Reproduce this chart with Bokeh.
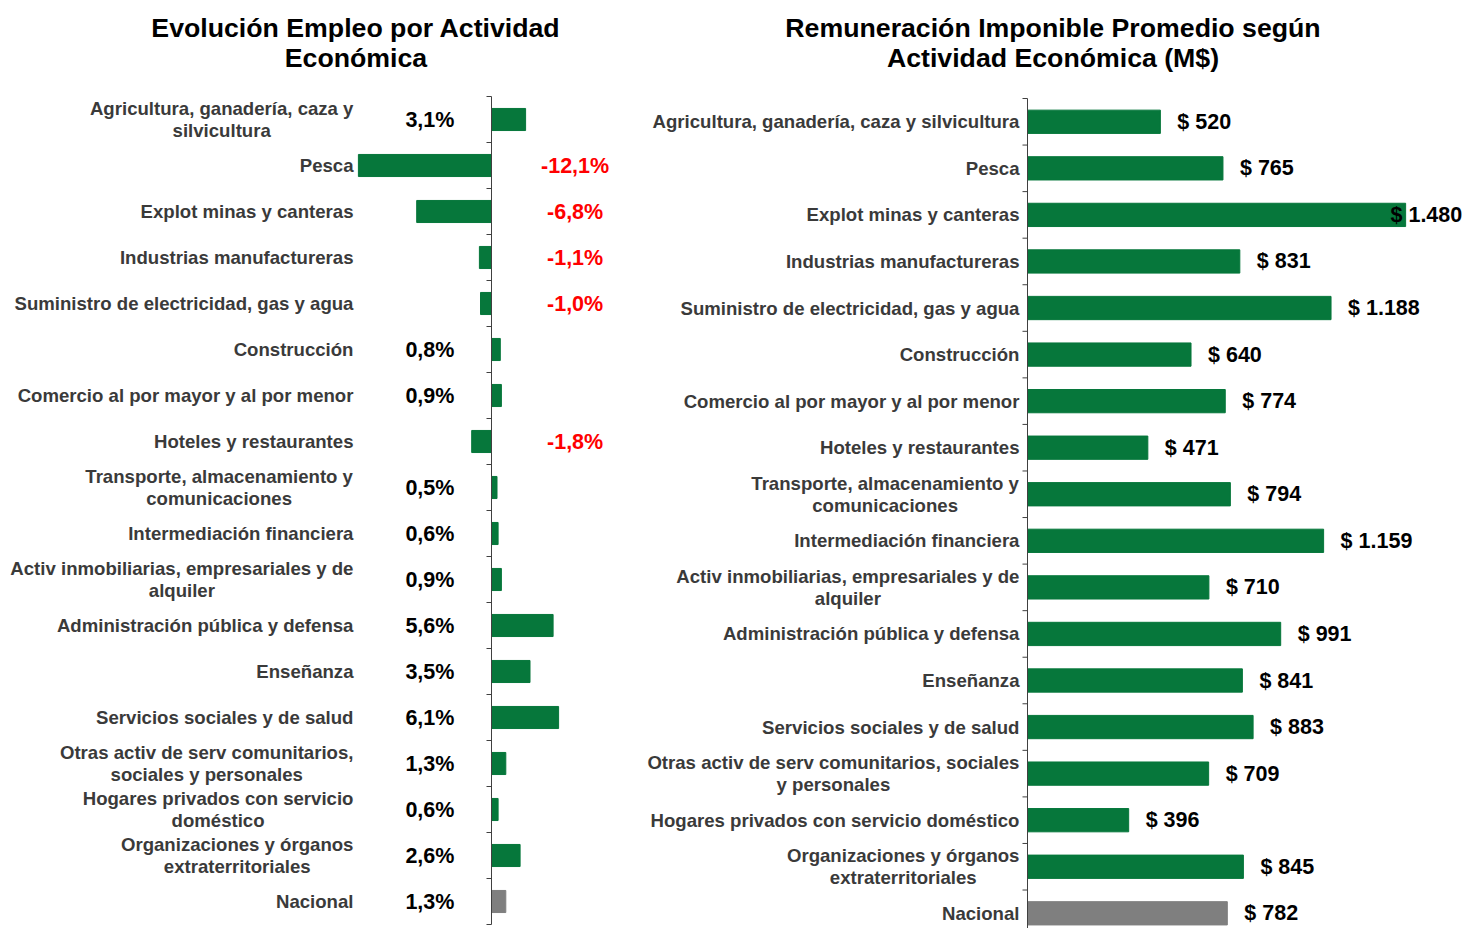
import numpy as np
from bokeh.plotting import figure
from bokeh.layouts import column, row
from bokeh.models import ColumnDataSource, Range1d
from bokeh.core.properties import value
from bokeh.embed import file_html
from bokeh.resources import INLINE

# ---------------- data ----------------
categorias_empleo = [
    "Agricultura, ganadería, caza y\nsilvicultura",
    "Pesca",
    "Explot minas y canteras",
    "Industrias manufactureras",
    "Suministro de electricidad, gas y agua",
    "Construcción",
    "Comercio al por mayor y al por menor",
    "Hoteles y restaurantes",
    "Transporte, almacenamiento y\ncomunicaciones",
    "Intermediación financiera",
    "Activ inmobiliarias, empresariales y de\nalquiler",
    "Administración pública y defensa",
    "Enseñanza",
    "Servicios sociales y de salud",
    "Otras activ de serv comunitarios,\nsociales y personales",
    "Hogares privados con servicio\ndoméstico",
    "Organizaciones y órganos\nextraterritoriales",
    "Nacional",
]
categorias_remun = [
    "Agricultura, ganadería, caza y silvicultura",
    "Pesca",
    "Explot minas y canteras",
    "Industrias manufactureras",
    "Suministro de electricidad, gas y agua",
    "Construcción",
    "Comercio al por mayor y al por menor",
    "Hoteles y restaurantes",
    "Transporte, almacenamiento y\ncomunicaciones",
    "Intermediación financiera",
    "Activ inmobiliarias, empresariales y de\nalquiler",
    "Administración pública y defensa",
    "Enseñanza",
    "Servicios sociales y de salud",
    "Otras activ de serv comunitarios, sociales\ny personales",
    "Hogares privados con servicio doméstico",
    "Organizaciones y órganos\nextraterritoriales",
    "Nacional",
]
empleo_var = [3.1, -12.1, -6.8, -1.1, -1.0, 0.8, 0.9, -1.8, 0.5, 0.6,
              0.9, 5.6, 3.5, 6.1, 1.3, 0.6, 2.6, 1.3]
remuneracion = [520, 765, 1480, 831, 1188, 640, 774, 471, 794, 1159,
                710, 991, 841, 883, 709, 396, 845, 782]
titulo_empleo = "Evolución Empleo por Actividad\nEconómica"
titulo_remun = "Remuneración Imponible Promedio según\nActividad Económica (M$)"

# ---------------- style ----------------
FONT = "Liberation Sans"
GREEN = "#06773B"
GREY = "#7F7F7F"
AXIS = "#404040"
LABEL_COL = "#3a3a3a"
LABEL_PX = 18.6
VALUE_SIZE = "21.5px"
LINE_H = 1.03
TITLE_H = 92
H = 928 - TITLE_H

n = len(empleo_var)
idx = np.arange(n)
bar_colors = [GREY if c == "Nacional" else GREEN for c in categorias_empleo]

# Liberation Sans Bold advance widths (1/1000 em) to centre wrapped lines
_W = dict(zip("abcdefghijklmnopqrstuvwxyz",
              [556, 611, 556, 611, 556, 333, 611, 611, 278, 278, 556, 278, 889,
               611, 611, 611, 611, 389, 556, 333, 611, 556, 778, 556, 556, 500]))
_W.update(dict(zip("ABCDEFGHIJKLMNOPQRSTUVWXYZ",
                   [722, 722, 722, 722, 667, 611, 778, 722, 278, 556, 722, 611, 833,
                    722, 778, 667, 778, 722, 667, 611, 722, 667, 944, 667, 667, 611])))
_W.update({" ": 278, ",": 278, ".": 278, "á": 556, "é": 556, "í": 278,
           "ó": 611, "ú": 611, "ñ": 611})


def block_width(label, px):
    return max(sum(_W.get(ch, 556) for ch in line) for line in label.split("\n")) * px / 1000


def base_fig(width, x_range, y_range):
    p = figure(width=width, height=H, x_range=x_range, y_range=y_range,
               x_axis_location=None, y_axis_location=None, toolbar_location=None,
               output_backend="svg", min_border=0)
    p.outline_line_color = None
    p.grid.visible = False
    return p


def axis_and_labels(p, px_per_unit, labels, label_gap_px):
    # vertical axis at zero, small ticks at category boundaries (outside)
    p.segment(x0=[0], y0=[-0.5], x1=[0], y1=[n - 0.5], line_color=AXIS, line_width=1)
    bounds = np.arange(n + 1) - 0.5
    p.segment(x0=np.full(n + 1, -5 / px_per_unit), y0=bounds, x1=np.zeros(n + 1),
              y1=bounds, line_color=AXIS, line_width=1)
    src = ColumnDataSource(dict(
        y=idx, t=labels,
        xo=[-block_width(t, LABEL_PX) / 2 for t in labels],
    ))
    p.text(x=-label_gap_px / px_per_unit, y="y", text="t", x_offset="xo", source=src,
           text_align="center", text_baseline="middle", text_font=value(FONT),
           text_font_style="bold", text_font_size=f"{LABEL_PX}px",
           text_color=LABEL_COL, text_line_height=LINE_H)


# ---------------- title strip ----------------
WT = 1464
tf = figure(width=WT, height=TITLE_H, x_range=Range1d(0, WT), y_range=Range1d(TITLE_H, 0),
            x_axis_location=None, y_axis_location=None, toolbar_location=None,
            output_backend="svg", min_border=0)
tf.outline_line_color = None
tf.grid.visible = False
tf.text(x=[355.5, 1052.5], y=[42.5, 42.5], text=[titulo_empleo, titulo_remun],
        text_align="center", text_baseline="middle", text_font=value(FONT),
        text_font_style="bold", text_font_size="26.7px", text_color="black",
        text_line_height=LINE_H)

# ---------------- left: empleo ----------------
WL = 630
PX_L = 11.0        # px per percentage point
ZERO_L = 491       # px of x=0 inside the figure
ROW_L = 46.0
y_top_l = -0.5 - 4 / ROW_L
pl = base_fig(WL, Range1d(-ZERO_L / PX_L, (WL - ZERO_L) / PX_L),
              Range1d(y_top_l + H / ROW_L, y_top_l))

ev = np.array(empleo_var)
src_l = ColumnDataSource(dict(
    y=idx, v=ev, color=bar_colors,
    lx=np.where(ev >= 0, -5.6, 7.6),
    lc=np.where(ev >= 0, "black", "#FF0000"),
    lt=[f"{v:.1f}".replace(".", ",") + "%" for v in ev],
))
pl.hbar(y="y", left=0, right="v", height=0.48, fill_color="color",
        line_color="color", source=src_l)
axis_and_labels(pl, PX_L, categorias_empleo, 138)
pl.text(x="lx", y="y", text="lt", text_color="lc", text_align="center",
        text_baseline="middle", text_font=value(FONT), text_font_style="bold",
        text_font_size=VALUE_SIZE, source=src_l)

# ---------------- right: remuneración ----------------
WR = WT - WL
PX_R = 0.2555      # px per M$
ZERO_R = 397
ROW_R = 46.56
x_end_r = (WR - ZERO_R) / PX_R
y_top_r = -0.5 - 6 / ROW_R
pr = base_fig(WR, Range1d(-ZERO_R / PX_R, x_end_r),
              Range1d(y_top_r + H / ROW_R, y_top_r))

rv = np.array(remuneracion)
src_r = ColumnDataSource(dict(
    y=idx, v=rv, color=bar_colors,
    lx=np.minimum(rv, x_end_r - 91 / PX_R),
    lt=["$ " + f"{v:,}".replace(",", ".") for v in rv],
))
pr.hbar(y="y", left=0, right="v", height=0.5, fill_color="color",
        line_color="color", source=src_r)
axis_and_labels(pr, PX_R, categorias_remun, 8)
pr.text(x="lx", y="y", text="lt", x_offset=17, text_color="black", text_align="left",
        text_baseline="middle", text_font=value(FONT), text_font_style="bold",
        text_font_size=VALUE_SIZE, source=src_r)

layout = column(tf, row(pl, pr))
open("out.html", "w").write(file_html(layout, INLINE))
